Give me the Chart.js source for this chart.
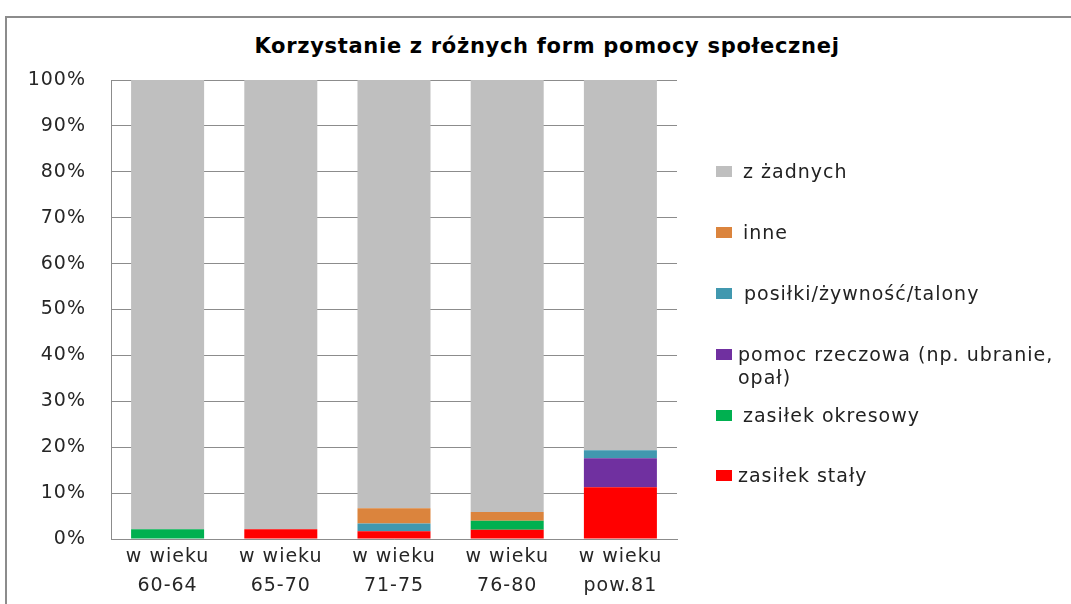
<!DOCTYPE html>
<html lang="pl">
<head>
<meta charset="utf-8">
<title>Korzystanie z różnych form pomocy społecznej</title>
<script src="https://cdn.jsdelivr.net/npm/chart.js@4"></script>
<style>
  html, body { margin: 0; padding: 0; background: #fff; overflow: hidden; }
  body { width: 1071px; height: 604px; position: relative; font-family: "DejaVu Sans", sans-serif; color: #222; }
  #frame { position: absolute; left: 5px; top: 16px; right: -20px; bottom: -20px; border-left: 2px solid #8c8c8c; border-top: 2px solid #8c8c8c; }
  #title { position: absolute; left: 0; width: 1094px; top: 34px; text-align: center; font: bold 21px "DejaVu Sans", sans-serif; letter-spacing: 0.7px; color: #000; }
  #chart { position: absolute; left: 0; top: 0; }
  .item { position: absolute; left: 716px; font-size: 19px; letter-spacing: 1px; line-height: 23px; white-space: nowrap; }
  .item i { position: absolute; left: 0; top: 6px; width: 16px; height: 11px; }
  .item span { position: absolute; top: 0; }
</style>
</head>
<body>
<div id="frame"></div>
<div id="title">Korzystanie z różnych form pomocy społecznej</div>
<canvas id="chart" width="1071" height="604"></canvas>
<div id="legend"></div>
<script>
// grupy wiekowe (os X)
const ageLabels = [
  ["w wieku", "60-64"],
  ["w wieku", "65-70"],
  ["w wieku", "71-75"],
  ["w wieku", "76-80"],
  ["w wieku", "pow.81"],
];

// udzial w %
const zasilekStaly     = [0,    2.1,  1.7,  2.0,  11.3];
const zasilekOkresowy  = [2.1,  0,    0,    2.0,  0];
const pomocRzeczowa    = [0,    0,    0,    0,    6.3];
const posilki          = [0,    0,    1.7,  0,    1.75];
const inne             = [0,    0,    3.3,  1.9,  0];
const zZadnych         = [97.9, 97.9, 93.3, 94.1, 80.65];

const yTicks = [0, 10, 20, 30, 40, 50, 60, 70, 80, 90, 100];

const series = [
  { label: "zasiłek stały", data: zasilekStaly, color: "#ff0000" },
  { label: "zasiłek okresowy", data: zasilekOkresowy, color: "#00b050" },
  { label: "pomoc rzeczowa (np. ubranie,\nopał)", data: pomocRzeczowa, color: "#7030a0" },
  { label: "posiłki/żywność/talony", data: posilki, color: "#4198af" },
  { label: "inne", data: inne, color: "#db843d" },
  { label: "z żadnych", data: zZadnych, color: "#bfbfbf" },
];

// legenda po prawej, jak w Excelu (od gory: ostatnia seria)
const legendRows = [
  { idx: 5, y: 172, x: 743 },
  { idx: 4, y: 233, x: 743 },
  { idx: 3, y: 294, x: 744 },
  { idx: 2, y: 355, x: 738 },
  { idx: 1, y: 416, x: 743 },
  { idx: 0, y: 476, x: 738 },
];

function buildLegend() {
  const box = document.getElementById("legend");
  legendRows.forEach(r => {
    const s = series[r.idx];
    const div = document.createElement("div");
    div.className = "item";
    div.style.top = (r.y - 12) + "px";
    const sq = document.createElement("i");
    sq.style.background = s.color;
    const txt = document.createElement("span");
    txt.style.left = (r.x - 716) + "px";
    txt.innerHTML = s.label.replace("\n", "<br>");
    div.appendChild(sq);
    div.appendChild(txt);
    box.appendChild(div);
  });
}

const spacingPlugin = {
  id: "spacing",
  beforeLayout(chart) { chart.ctx.letterSpacing = "1px"; },
  beforeDraw(chart) { chart.ctx.letterSpacing = "1px"; },
};

const ctx = document.getElementById("chart").getContext("2d");
new Chart(ctx, {
  type: "bar",
  data: {
    labels: ageLabels,
    datasets: series.map(s => ({
      label: s.label,
      data: s.data,
      backgroundColor: s.color,
      borderWidth: 0,
      barPercentage: 0.645,
      categoryPercentage: 1,
    })),
  },
  options: {
    responsive: false,
    animation: false,
    layout: { padding: { left: 0, right: 394, top: 80, bottom: 0 } },
    plugins: {
      legend: { display: false },
      title: { display: false },
      tooltip: { enabled: false },
    },
    scales: {
      x: {
        stacked: true,
        grid: { display: false, drawTicks: false },
        border: { display: true, color: "#8c8c8c", width: 1 },
        ticks: {
          color: "#262626",
          font: { family: "DejaVu Sans", size: 19, lineHeight: 1.55 },
          padding: 3,
          maxRotation: 0,
        },
        afterFit: s => { s.height = 65; },
      },
      y: {
        stacked: true,
        min: 0,
        max: 100,
        afterBuildTicks: s => { s.ticks = yTicks.map(v => ({ value: v })); },
        grid: { color: "#8c8c8c", drawTicks: false },
        border: { display: true, color: "#8c8c8c", width: 1 },
        ticks: {
          color: "#262626",
          font: { family: "DejaVu Sans", size: 19 },
          padding: 25,
          callback: v => v + "%",
        },
        afterFit: s => { s.width = 111; },
      },
    },
  },
  plugins: [spacingPlugin],
});

buildLegend();
</script>
</body>
</html>
